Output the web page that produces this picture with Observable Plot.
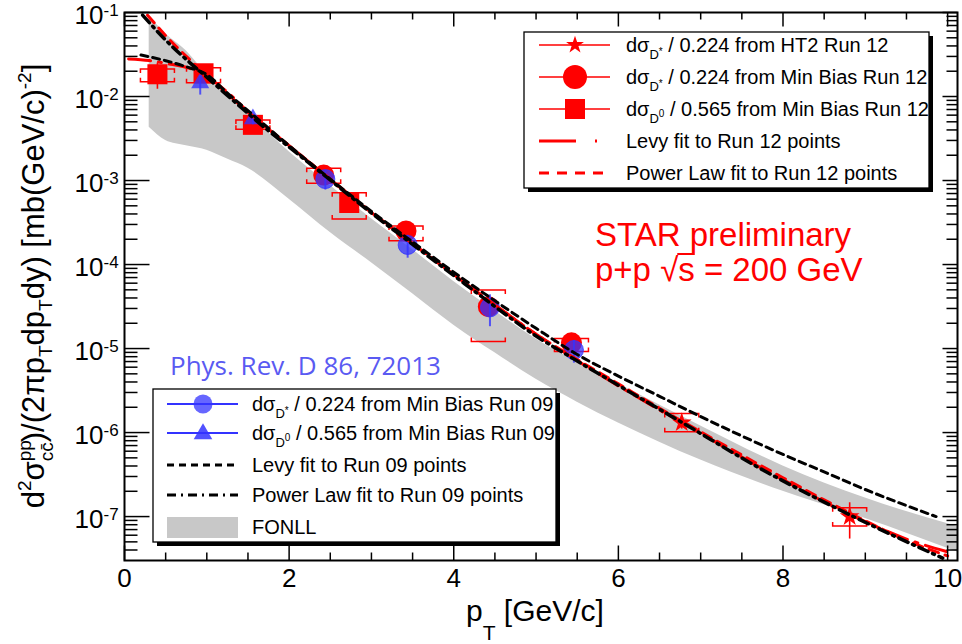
<!DOCTYPE html>
<html>
<head>
<meta charset="utf-8">
<script src="https://cdn.jsdelivr.net/npm/d3@7"></script>
<script src="https://cdn.jsdelivr.net/npm/@observablehq/plot@0.6"></script>
<style>
html,body{margin:0;padding:0;background:#fff;}
#chart{width:962px;height:644px;overflow:hidden;}
</style>
</head>
<body>
<div id="chart"></div>
<script>
// ---------------- data ----------------
const xTickValues = [0, 2, 4, 6, 8, 10];
const xTickLabels = ["0", "2", "4", "6", "8", "10"];
const xMinorTicks = [0.5, 1, 1.5, 2.5, 3, 3.5, 4.5, 5, 5.5, 6.5, 7, 7.5, 8.5, 9, 9.5];
const yTickValues = [1e-1, 1e-2, 1e-3, 1e-4, 1e-5, 1e-6, 1e-7];
const yTickBases = ["10", "10", "10", "10", "10", "10", "10"];
const yTickExponents = ["-1", "-2", "-3", "-4", "-5", "-6", "-7"];
const yMinorMultipliers = [2, 3, 4, 5, 6, 7, 8, 9];

// FONLL band
const fonllX    = [0.3, 0.5, 0.75, 1.0, 1.25, 1.5, 2.0, 2.5, 3.0, 3.5, 4.0, 4.5, 5.0, 5.5, 6.0, 7.0, 8.0, 9.0, 10.12];
const fonllLow  = [4.3e-3, 3.0e-3, 2.6e-3, 2.3e-3, 1.8e-3, 1.4e-3, 6.0e-4, 2.4e-4, 1.05e-4, 4.5e-5, 1.9e-5, 8.9e-6, 4.3e-6, 2.3e-6, 1.3e-6, 4.7e-7, 2.0e-7, 9.5e-8, 3.8e-8];
const fonllHigh = [0.091, 0.056, 0.035, 0.018, 0.010, 6.3e-3, 2.2e-3, 8.7e-4, 3.5e-4, 1.5e-4, 6.3e-5, 2.8e-5, 1.3e-5, 6.9e-6, 3.8e-6, 1.2e-6, 4.0e-7, 1.66e-7, 7.6e-8];

// Run 12, D0 / 0.565 Min Bias (squares)
const sqX      = [0.40, 0.96, 1.56, 2.73];
const sqY      = [0.0184, 0.0189, 4.6e-3, 5.4e-4];
const sqSysLo  = [0.0150, 0.0146, 4.07e-3, 3.48e-4];
const sqSysHi  = [0.0212, 0.0220, 5.25e-3, 7.16e-4];
const sqStatLo = [0.0122, 0.0165, 4.3e-3, 4.7e-4];
const sqStatHi = [0.0250, 0.0213, 4.9e-3, 6.1e-4];

// Run 12, D* / 0.224 Min Bias (circles)
const rcX      = [2.42, 3.42, 4.42, 5.43];
const rcY      = [1.16e-3, 2.51e-4, 3.15e-5, 1.17e-5];
const rcSysLo  = [9.3e-4, 1.92e-4, 1.21e-5, 9.2e-6];
const rcSysHi  = [1.40e-3, 2.87e-4, 4.97e-5, 1.32e-5];
const rcStatLo = [1.04e-3, 2.28e-4, 2.6e-5, 1.06e-5];
const rcStatHi = [1.28e-3, 2.74e-4, 3.7e-5, 1.28e-5];

// Run 12, D* / 0.224 HT2 (stars)
const stX      = [6.77, 8.81];
const stY      = [1.31e-6, 1.0e-7];
const stSysLo  = [1.02e-6, 7.7e-8];
const stSysHi  = [1.69e-6, 1.27e-7];
const stStatLo = [1.10e-6, 5.4e-8];
const stStatHi = [1.52e-6, 1.46e-7];

// Run 09, D0 / 0.565 (triangles)
const trX      = [0.92, 1.56];
const trY      = [0.0145, 5.4e-3];
const trStatLo = [0.0104, 4.6e-3];
const trStatHi = [0.0186, 6.2e-3];

// Run 09, D* / 0.224 (circles)
const bcX      = [2.44, 3.44, 4.44, 5.46];
const bcY      = [1.04e-3, 1.71e-4, 3.09e-5, 9.6e-6];
const bcStatLo = [7.7e-4, 1.19e-4, 1.82e-5, 6.7e-6];
const bcStatHi = [1.31e-3, 2.23e-4, 4.36e-5, 1.25e-5];

// Fits
const levy12X = [0.05, 0.3, 0.5, 0.8, 1.0, 1.25, 1.5, 2.0, 2.42, 3.0, 3.5, 4.0, 4.5, 5.0, 5.5, 6.0, 6.5, 7.0, 7.5, 8.0, 8.5, 9.0, 9.5, 10.0];
const levy12Y = [0.028, 0.0268, 0.0248, 0.0215, 0.0172, 0.0113, 6.6e-3, 2.6e-3, 1.19e-3, 4.15e-4, 1.77e-4, 7.6e-5, 3.3e-5, 1.48e-5, 7.2e-6, 3.6e-6, 1.86e-6, 9.8e-7, 5.1e-7, 2.75e-7, 1.5e-7, 8.7e-8, 5.4e-8, 3.8e-8];
const pl12X = [0.28, 0.5, 0.8, 1.0, 1.25, 1.5, 2.0, 2.42, 3.0, 3.5, 4.0, 4.5, 5.0, 5.5, 6.0, 6.5, 7.0, 7.5, 8.0, 8.5, 9.0, 9.5, 10.0];
const pl12Y = [0.093, 0.053, 0.027, 0.0178, 0.0108, 6.5e-3, 2.6e-3, 1.2e-3, 4.2e-4, 1.78e-4, 7.6e-5, 3.3e-5, 1.48e-5, 7.4e-6, 3.8e-6, 1.95e-6, 1.02e-6, 5.4e-7, 2.9e-7, 1.58e-7, 8.9e-8, 5.2e-8, 3.4e-8];
const levy09X = [0.2, 0.5, 0.75, 1.0, 1.25, 1.5, 2.0, 2.42, 3.0, 3.5, 4.0, 4.5, 5.0, 5.5, 6.0, 6.5, 7.0, 7.5, 8.0, 8.5, 9.0, 9.5, 9.86];
const levy09Y = [0.0312, 0.0267, 0.0226, 0.0182, 0.011, 6.8e-3, 2.6e-3, 1.2e-3, 4.3e-4, 1.86e-4, 8.1e-5, 3.7e-5, 1.74e-5, 8.5e-6, 4.7e-6, 2.7e-6, 1.55e-6, 9.1e-7, 5.5e-7, 3.4e-7, 2.1e-7, 1.35e-7, 1.0e-7];
const pl09X = [0.22, 0.5, 0.8, 1.0, 1.25, 1.5, 1.75, 2.0, 2.42, 3.0, 3.5, 4.0, 4.44, 5.0, 5.45, 6.1, 6.79, 7.72, 8.81, 9.94];
const pl09Y = [0.093, 0.047, 0.025, 0.017, 0.0103, 6.3e-3, 3.9e-3, 2.5e-3, 1.17e-3, 4.1e-4, 1.74e-4, 7.4e-5, 3.5e-5, 1.41e-5, 7.6e-6, 3.2e-6, 1.29e-6, 3.75e-7, 1.05e-7, 3.2e-8];

// Legend texts
const legend12Subs  = ["*", "*", "0"];
const legend12Texts = [" / 0.224 from HT2 Run 12", " / 0.224 from Min Bias Run 12", " / 0.565 from Min Bias Run 12", "Levy fit to Run 12 points", "Power Law fit to Run 12 points"];
const legend09Subs  = ["*", "0"];
const legend09Texts = [" / 0.224 from Min Bias Run 09", " / 0.565 from Min Bias Run 09", "Levy fit to Run 09 points", "Power Law fit to Run 09 points", "FONLL"];

// ---------------- helpers ----------------
const zip = (xs, cols) => xs.map((x, i) => { const o = {x}; for (const k in cols) o[k] = cols[k][i]; return o; });
const curve = (xs, ys) => xs.map((x, i) => ({x, y: ys[i]}));

const fonll = zip(fonllX, {lo: fonllLow, hi: fonllHigh});
const squares = zip(sqX, {y: sqY, sysLo: sqSysLo, sysHi: sqSysHi, statLo: sqStatLo, statHi: sqStatHi});
const rcircles = zip(rcX, {y: rcY, sysLo: rcSysLo, sysHi: rcSysHi, statLo: rcStatLo, statHi: rcStatHi});
const stars = zip(stX, {y: stY, sysLo: stSysLo, sysHi: stSysHi, statLo: stStatLo, statHi: stStatHi});
const red12 = [...squares, ...rcircles, ...stars];
const triangles = zip(trX, {y: trY, statLo: trStatLo, statHi: trStatHi});
const bcircles = zip(bcX, {y: bcY, statLo: bcStatLo, statHi: bcStatHi});
const blue09 = [...triangles, ...bcircles];

const yMinorTicks = [];
for (let e = -8; e <= -2; e++) for (const m of yMinorMultipliers) {
  const v = m * Math.pow(10, e);
  if (v > 3.05e-8 && v < 0.0999) yMinorTicks.push(v);
}
const yTicks = yTickValues.map((v, i) => ({v, base: yTickBases[i], exp: yTickExponents[i]}));
const xTicks = xTickValues.map((v, i) => ({v, label: xTickLabels[i]}));

const seg = (dx, dy) => ({draw(c) { c.moveTo(0, 0); c.lineTo(dx, dy); }});
const capTop = {draw(c) { c.moveTo(-17, 4); c.lineTo(-17, 0); c.lineTo(17, 0); c.lineTo(17, 4); }};
const capBot = {draw(c) { c.moveTo(-17, -4); c.lineTo(-17, 0); c.lineTo(17, 0); c.lineTo(17, -4); }};

const RED = "#ff0000", BLUE = "#3333ff", GRAY = "#c8c8c8";
const sans = "'Liberation Sans', Arial, Helvetica, sans-serif";
const tk = {stroke: "black", strokeWidth: 1.5, fill: "none"};

const svgNode = Plot.plot({
  width: 962, height: 644,
  marginLeft: 124, marginRight: 5, marginTop: 12, marginBottom: 84,
  x: {domain: [0, 10.12], axis: null},
  y: {type: "log", domain: [3e-8, 0.1], axis: null},
  style: {background: "white", fontFamily: sans},
  marks: [
    Plot.areaY(fonll, {x: "x", y1: "lo", y2: "hi", fill: GRAY, curve: "monotone-x"}),
    // Run 12 markers and errors
    Plot.ruleX(red12, {x: "x", y1: "statLo", y2: "statHi", stroke: RED, strokeWidth: 1.6}),
    Plot.dot(red12, {x: "x", y: "sysHi", symbol: capTop, stroke: RED, strokeWidth: 1.5, fill: "none"}),
    Plot.dot(red12, {x: "x", y: "sysLo", symbol: capBot, stroke: RED, strokeWidth: 1.5, fill: "none"}),
    Plot.dot(squares, {x: "x", y: "y", symbol: "square", r: 11.3, fill: RED, stroke: "none"}),
    Plot.dot(rcircles, {x: "x", y: "y", symbol: "circle", r: 10.5, fill: RED, stroke: "none"}),
    Plot.dot(stars, {x: "x", y: "y", symbol: "star", r: 6.2, fill: RED, stroke: "none"}),
    // Run 09 markers and errors
    Plot.ruleX(blue09, {x: "x", y1: "statLo", y2: "statHi", stroke: BLUE, strokeWidth: 2, strokeOpacity: 0.8}),
    Plot.dot(triangles, {x: "x", y: "y", symbol: "triangle", r: 6.7, fill: BLUE, fillOpacity: 0.8, stroke: "none"}),
    Plot.dot(bcircles, {x: "x", y: "y", symbol: "circle", r: 9.5, fill: BLUE, fillOpacity: 0.75, stroke: BLUE, strokeOpacity: 0.8, strokeWidth: 1}),
    // fits
    Plot.line(curve(levy12X, levy12Y), {x: "x", y: "y", stroke: RED, strokeWidth: 3, strokeDasharray: "22,8,3,8", curve: "monotone-x"}),
    Plot.line(curve(pl12X, pl12Y), {x: "x", y: "y", stroke: RED, strokeWidth: 3, strokeDasharray: "10,7", curve: "monotone-x"}),
    Plot.line(curve(levy09X, levy09Y), {x: "x", y: "y", stroke: "black", strokeWidth: 3, strokeDasharray: "7,5", curve: "monotone-x"}),
    Plot.line(curve(pl09X, pl09Y), {x: "x", y: "y", stroke: "black", strokeWidth: 3.5, strokeDasharray: "10,5,2,5", curve: "monotone-x"}),
    // axis ticks (inside the frame on all sides)
    Plot.dot(yTickValues, {y: d => d, frameAnchor: "left", symbol: seg(25, 0), ...tk}),
    Plot.dot(yMinorTicks, {y: d => d, frameAnchor: "left", symbol: seg(13, 0), ...tk}),
    Plot.dot(yTickValues, {y: d => d, frameAnchor: "right", symbol: seg(-15, 0), ...tk}),
    Plot.dot(yMinorTicks, {y: d => d, frameAnchor: "right", symbol: seg(-11, 0), ...tk}),
    Plot.dot(xTickValues, {x: d => d, frameAnchor: "bottom", symbol: seg(0, -15), ...tk}),
    Plot.dot(xMinorTicks, {x: d => d, frameAnchor: "bottom", symbol: seg(0, -8), ...tk}),
    Plot.dot(xTickValues, {x: d => d, frameAnchor: "top", symbol: seg(0, 14), ...tk}),
    Plot.dot(xMinorTicks, {x: d => d, frameAnchor: "top", symbol: seg(0, 7), ...tk}),
    // tick labels
    Plot.text(yTicks, {y: "v", frameAnchor: "left", text: "base", dx: -21, dy: 11, lineAnchor: "bottom", textAnchor: "end", fontSize: 26, fill: "black"}),
    Plot.text(yTicks, {y: "v", frameAnchor: "left", text: "exp", dx: -21, dy: 3, lineAnchor: "bottom", textAnchor: "start", fontSize: 17, fill: "black"}),
    Plot.text(xTicks, {x: "v", frameAnchor: "bottom", text: "label", dy: 26, lineAnchor: "bottom", textAnchor: "middle", fontSize: 26, fill: "black"}),
    Plot.frame({stroke: "black", strokeWidth: 2})
  ]
});
document.getElementById("chart").appendChild(svgNode);
const svg = d3.select(svgNode);

// rich text helper (sub/superscripts)
function rich(sel, parts) {
  let cur = 0;
  for (const p of parts) {
    const s = p.s || 0;
    const ts = sel.append("tspan").attr("dy", s - cur).text(p.t);
    if (p.dx) ts.attr("dx", p.dx);
    if (p.f) ts.attr("font-size", p.f);
    if (p.ff) ts.attr("font-family", p.ff);
    cur = s;
  }
  return sel;
}

// axis titles
const yt = svg.append("text").attr("transform", "translate(44,286) rotate(-90)")
  .attr("text-anchor", "middle").attr("font-family", sans).attr("font-size", 31).attr("fill", "#000");
rich(yt, [
  {t: "d"}, {t: "2", f: 19, s: -13}, {t: "σ"}, {t: "pp", f: 19, s: -13},
  {t: "cc\u0304", f: 19, s: 9, dx: -21}, {t: ")/(2π"}, {t: "p"}, {t: "T", f: 19, s: 8},
  {t: "dp"}, {t: "T", f: 19, s: 8}, {t: "dy) [mb(GeV/c)"}, {t: "-2", f: 19, s: -13}, {t: "]"}
]);
const xt = svg.append("text").attr("x", 466).attr("y", 621).attr("text-anchor", "start")
  .attr("font-family", sans).attr("font-size", 30).attr("fill", "#000");
rich(xt, [{t: "p"}, {t: "T", f: 21, s: 19}, {t: " [GeV/c]"}]);

// annotations
svg.append("text").attr("x", 595).attr("y", 246).attr("text-anchor", "start").attr("font-family", sans).attr("font-size", 33)
  .attr("fill", RED).text("STAR preliminary");
const pp = svg.append("text").attr("x", 595).attr("y", 281).attr("text-anchor", "start").attr("font-family", sans)
  .attr("font-size", 33).attr("fill", RED).text("p+p √s = 200 GeV");
{
  const n = pp.node();
  const rad = n.getExtentOfChar(4), s = n.getExtentOfChar(5);
  svg.append("line").attr("x1", rad.x + rad.width - 1).attr("x2", s.x + s.width)
    .attr("y1", rad.y + 3).attr("y2", rad.y + 3).attr("stroke", RED).attr("stroke-width", 2);
}
svg.append("text").attr("x", 170).attr("y", 375).attr("text-anchor", "start").attr("font-family", "'Open Sans', sans-serif")
  .attr("font-size", 26).attr("fill", "#5a5af2").text("Phys. Rev. D 86, 72013");

// legends
const L = svg.append("g").attr("font-family", sans).attr("font-size", 20).attr("fill", "#000").attr("text-anchor", "start");
function box(x0, y0, x1, y1) {
  L.append("rect").attr("x", x0 + 4).attr("y", y0 + 4).attr("width", x1 - x0).attr("height", y1 - y0).attr("fill", "#000");
  L.append("rect").attr("x", x0).attr("y", y0).attr("width", x1 - x0).attr("height", y1 - y0)
    .attr("fill", "#fff").attr("stroke", "#000").attr("stroke-width", 1.3);
}
function sample(x0, x1, y, stroke, width, dash) {
  const l = L.append("line").attr("x1", x0).attr("x2", x1).attr("y1", y).attr("y2", y)
    .attr("stroke", stroke).attr("stroke-width", width);
  if (dash) l.attr("stroke-dasharray", dash);
}
function marker(type, size, x, y, fill, op) {
  L.append("path").attr("transform", `translate(${x},${y})`).attr("d", d3.symbol(type, size)())
    .attr("fill", fill).attr("fill-opacity", op || 1);
}
function label(x, y, sub, txt) {
  const t = L.append("text").attr("x", x).attr("y", y).attr("text-anchor", "start");
  if (sub) rich(t, [{t: "dσ"}, {t: "D", f: 13, s: 7}, {t: sub, f: 10, s: sub === "*" ? 3 : 1}, {t: txt, s: 0}]);
  else t.text(txt);
}

// Run 12 legend
box(524, 32, 929, 188);
const r12 = [45, 77, 109, 141, 173];
sample(539, 610, r12[0], RED, 1.5);
marker(d3.symbolStar, Math.PI * 5.6 * 5.6, 575, r12[0], RED);
sample(539, 610, r12[1], RED, 1.5);
marker(d3.symbolCircle, Math.PI * 12 * 12, 575, r12[1], RED);
sample(539, 610, r12[2], RED, 1.5);
marker(d3.symbolSquare, 20 * 20, 575, r12[2], RED);
sample(539, 612, r12[3], RED, 3, "37,19,2,40");
sample(539, 604, r12[4], RED, 3, "10,8");
for (let i = 0; i < 5; i++) label(626, r12[i] + 7, legend12Subs[i], legend12Texts[i]);

// Run 09 legend
box(153, 389, 556, 542);
const r09 = [404, 433, 465, 495, 527];
sample(167, 238, r09[0], BLUE, 2);
marker(d3.symbolCircle, Math.PI * 9.5 * 9.5, 203, r09[0], BLUE, 0.75);
sample(167, 238, r09[1], BLUE, 2);
marker(d3.symbolTriangle, 150, 203, r09[1] + 1, BLUE, 0.85);
sample(167, 238, r09[2], "#000", 3, "7,5");
sample(167, 238, r09[3], "#000", 3, "9,5,2,5");
L.append("rect").attr("x", 167).attr("y", r09[4] - 10).attr("width", 71).attr("height", 21).attr("fill", GRAY);
for (let i = 0; i < 5; i++) label(252, r09[i] + 7, legend09Subs[i], legend09Texts[i]);
</script>
</body>
</html>
